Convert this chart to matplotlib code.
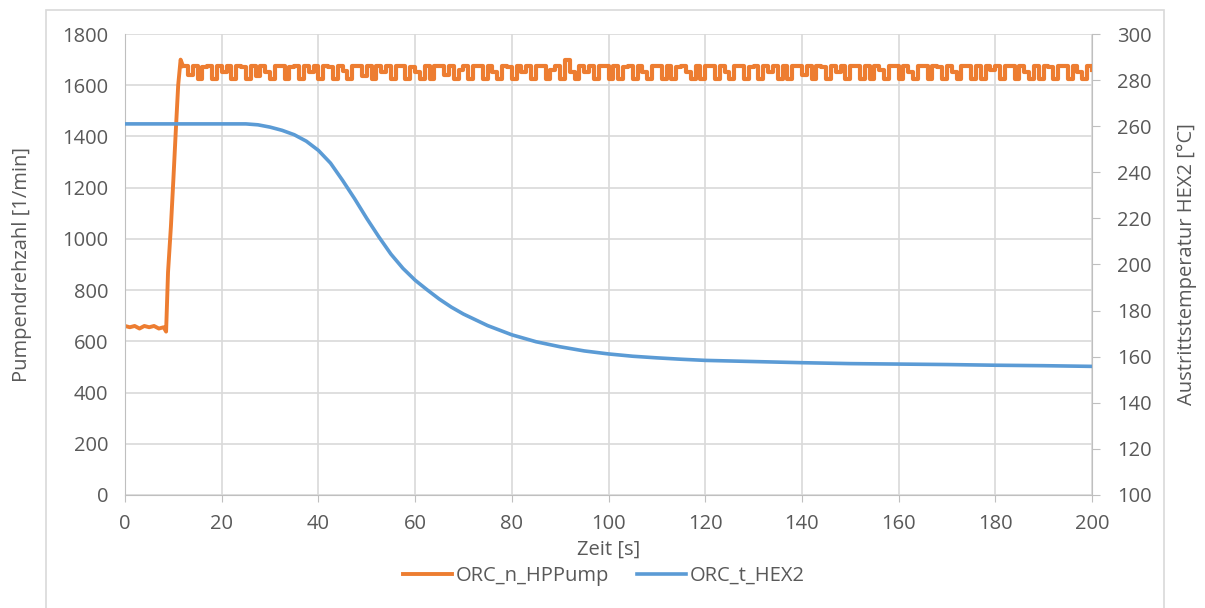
import matplotlib
matplotlib.use("Agg")
import matplotlib.pyplot as plt
from matplotlib.patches import Rectangle

# --- data ---
# pump speed [1/min], start-up phase
pump_t_start = [0, 1, 2, 3, 4, 5, 6, 7, 8, 8.5, 8.9, 9.5, 10, 10.5, 11, 11.5, 12]
pump_n_start = [660, 655, 660, 650, 660, 655, 660, 650, 655, 638, 870, 1050, 1230, 1420, 1600, 1700, 1675]

# pump speed plateau, one value per second from t=12 s to t=200 s
pump_t_plateau = list(range(12, 201))
pump_n_plateau = [
    1675, 1640, 1675, 1625, 1670, 1675, 1625, 1675, 1650, 1675,
    1625, 1675, 1670, 1625, 1675, 1635, 1675, 1650, 1625, 1675,
    1675, 1625, 1670, 1675, 1625, 1675, 1650, 1675, 1625, 1675,
    1670, 1625, 1675, 1655, 1625, 1675, 1675, 1635, 1675, 1625,
    1675, 1650, 1675, 1625, 1675, 1675, 1625, 1670, 1650, 1625,
    1675, 1625, 1675, 1675, 1640, 1675, 1625, 1660, 1675, 1625,
    1675, 1675, 1625, 1675, 1650, 1625, 1675, 1670, 1625, 1675,
    1650, 1675, 1625, 1675, 1675, 1625, 1660, 1675, 1625, 1700,
    1650, 1625, 1675, 1650, 1675, 1625, 1675, 1675, 1625, 1675,
    1625, 1670, 1675, 1625, 1675, 1650, 1625, 1675, 1675, 1625,
    1675, 1625, 1670, 1675, 1650, 1625, 1675, 1625, 1675, 1675,
    1625, 1675, 1650, 1625, 1675, 1675, 1625, 1670, 1675, 1625,
    1675, 1650, 1675, 1625, 1675, 1625, 1675, 1675, 1640, 1675,
    1625, 1675, 1670, 1625, 1675, 1650, 1675, 1625, 1675, 1675,
    1625, 1675, 1625, 1675, 1660, 1625, 1675, 1675, 1625, 1675,
    1650, 1625, 1675, 1675, 1625, 1675, 1670, 1625, 1675, 1650,
    1625, 1675, 1675, 1625, 1675, 1625, 1675, 1660, 1675, 1625,
    1675, 1675, 1625, 1675, 1650, 1625, 1675, 1625, 1675, 1670,
    1625, 1675, 1675, 1625, 1675, 1650, 1625, 1675, 1660,
]

# outlet temperature HEX2 [°C]
hex_t = [0, 5, 10, 15, 20, 25, 27.5, 30, 32.5, 35, 37.5, 40, 42.5, 45, 47.5,
         50, 52.5, 55, 57.5, 60, 62.5, 65, 67.5, 70, 72.5, 75, 77.5, 80, 85,
         90, 95, 100, 105, 110, 115, 120, 130, 140, 150, 160, 170, 180, 190, 200]
hex_temp = [261, 261, 261, 261, 261, 261, 260.6, 259.6, 258.2, 256.3, 253.5, 249.5, 244, 236.5, 228.5,
            220, 212, 204.5, 198.3, 193.2, 189, 185, 181.5, 178.5, 176, 173.5, 171.5, 169.5, 166.5,
            164.3, 162.5, 161.2, 160.2, 159.5, 158.9, 158.4, 157.9, 157.4, 157, 156.8, 156.6, 156.3, 156.1, 155.8]

x_ticks = list(range(0, 201, 20))
left_ticks = list(range(0, 1801, 200))
right_ticks = list(range(100, 301, 20))

orange = "#ED7D31"
blue = "#5B9BD5"
txt = "#595959"
grid = "#D9D9D9"
axis_col = "#BFBFBF"

plt.rcParams['font.family'] = ['Open Sans', 'DejaVu Sans']
fs = 14.5

fig = plt.figure(figsize=(12.05, 6.08), dpi=100)
ax = fig.add_axes([125 / 1205, 1 - 495 / 608, (1092 - 125) / 1205, (495 - 34) / 608])
ax2 = ax.twinx()

# chart frame as in the screenshot
fig.patches.append(Rectangle((46 / 1205, -0.02), (1164 - 46) / 1205, 1.02 - 10 / 608,
                             transform=fig.transFigure, fill=False,
                             edgecolor=grid, linewidth=1.2, zorder=0))

ln1, = ax.plot(pump_t_start, pump_n_start, color=orange, lw=2.8, label='ORC_n_HPPump')
ax.plot(pump_t_plateau, pump_n_plateau, color=orange, lw=3.0, drawstyle='steps-post')
ln2, = ax2.plot(hex_t, hex_temp, color=blue, lw=2.6, label='ORC_t_HEX2')

ax.set_xlim(0, 200)
ax.set_ylim(0, 1800)
ax2.set_ylim(100, 300)
ax.set_xticks(x_ticks)
ax.set_yticks(left_ticks)
ax2.set_yticks(right_ticks)

ax.grid(True, color=grid, lw=1.2)
ax.set_axisbelow(True)

for a in (ax, ax2):
    for s in a.spines.values():
        s.set_visible(False)
    a.tick_params(colors=txt, labelsize=fs, length=0)

ax.spines['left'].set_visible(True)
ax.spines['left'].set_color(axis_col)
ax.spines['bottom'].set_visible(True)
ax.spines['bottom'].set_color(axis_col)
ax2.spines['right'].set_visible(True)
ax2.spines['right'].set_color(axis_col)
ax.tick_params(axis='y', pad=12)
ax.tick_params(axis='x', length=5, color=axis_col, pad=9)
ax2.tick_params(axis='y', length=6, color=axis_col, pad=12)

ax.set_xlabel('Zeit [s]', color=txt, fontsize=fs)
ax.set_ylabel('Pumpendrehzahl [1/min]', color=txt, fontsize=fs)
ax2.set_ylabel('Austrittstemperatur HEX2 [°C]', color=txt, fontsize=fs)
ax.xaxis.set_label_coords(0.5, (495 - 550) / 461, transform=ax.transAxes)
ax.yaxis.set_label_coords((22 - 125) / 967, 0.5)
ax2.yaxis.set_label_coords((1187 - 125) / 967, 0.5)
ax.xaxis.label.set_va('center')
ax.yaxis.label.set_va('center')
ax2.yaxis.label.set_va('center')

leg = fig.legend(handles=[ln1, ln2], loc='center', ncol=2,
                 bbox_to_anchor=(604 / 1205, 1 - 576 / 608), frameon=False,
                 fontsize=fs, handlelength=2.4, handletextpad=0.2, columnspacing=1.4)
for t in leg.get_texts():
    t.set_color(txt)

fig.savefig('out.png', dpi=100)
